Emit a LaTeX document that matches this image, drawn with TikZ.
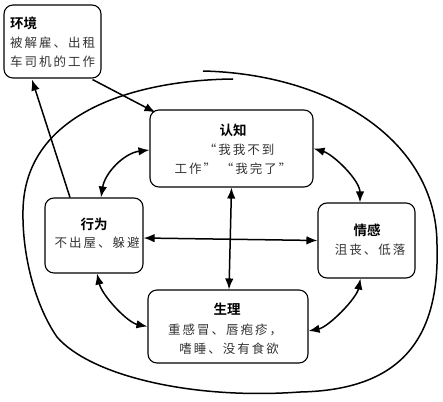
\documentclass[tikz,border=0pt]{standalone}
\usepackage{fontspec}
\usetikzlibrary{arrows.meta,calc}
\newfontfamily\cjk[BoldFont=* Bold]{Noto Sans CJK SC}
\newfontfamily\cjkbody[LetterSpace=16]{Noto Sans CJK SC}
\tikzset{
  box/.style={draw, rounded corners=9pt, line width=1.1pt, inner sep=0pt},
  conn/.style={line width=1.5pt, {Latex[length=11pt,width=8.5pt]}-{Latex[length=11pt,width=8.5pt]}},
  oneway/.style={line width=1.5pt, -{Latex[length=11pt,width=8.5pt]}},
  loopline/.style={line width=1.5pt},
  title/.style={font=\cjk\bfseries\fontsize{13.5}{15}\selectfont, inner sep=0pt},
  body/.style={font=\cjkbody\fontsize{12.5}{14}\selectfont, text=black!80, inner sep=0pt}
}
\begin{document}
\begin{tikzpicture}[x=1pt,y=-1pt]
\useasboundingbox (0,0) rectangle (443,401);
% boxes
\node[box, minimum width=97pt, minimum height=73pt] (env) at (52.5,41.5) {};
\node[box, minimum width=163pt, minimum height=77pt] (cog) at (231.5,148.5) {};
\node[box, minimum width=97pt, minimum height=75pt] (emo) at (366.5,240.5) {};
\node[box, minimum width=98pt, minimum height=75pt] (beh) at (94,235.5) {};
\node[box, minimum width=160pt, minimum height=73pt] (phy) at (228,326.5) {};
% texts
\node[title, anchor=west] (envT) at (10,23) {环境};
\node[body, anchor=west] (envL1) at (10,43) {被解雇、出租};
\node[body, anchor=west] (envL2) at (10,62) {车司机的工作};
\node[title] (cogT) at (233,130) {认知};
\node[body] (cogL1) at (239,150) {“我我不到};
\node[body] (cogL2) at (233,169) {工作”\ “我完了”};
\node[title] (emoT) at (367,230) {情感};
\node[body] (emoL1) at (370,250) {沮丧、低落};
\node[title] (behT) at (94,224) {行为};
\node[body] (behL1) at (97,243) {不出屋、躲避};
\node[title] (phyT) at (227,309) {生理};
\node[body] (phyL1) at (225,330) {重感冒、唇疱疹，};
\node[body] (phyL2) at (229,349) {嗜睡、没有食欲};
% big loop
\draw[loopline] (203,71) .. controls (330,74) and (437,140) .. (437,245)
  .. controls (440,340) and (400,390) .. (300,392)
  .. controls (190,400) and (90,375) .. (57,337)
  .. controls (35,305) and (22,255) .. (23,210)
  .. controls (25,110) and (140,80) .. (233,79);
% connectors
\draw[oneway] ($(env.south)+(40,1)$) -- ($(cog.north west)+(6,3)$);
\draw[oneway] ($(beh.north)+(-24,0)$) -- ($(env.south)+(-20.5,1)$);
\draw[conn] ($(beh.north)+(7,0)$) .. controls +(4,-25) and +(-25,3) .. ($(cog.west)+(0,1.5)$);
\draw[conn] (cog.east) .. controls +(20,6) and +(0,-22) .. ($(emo.north)+(-6.5,0)$);
\draw[conn] (cog.south) -- ($(phy.north)+(1,0)$);
\draw[conn] ($(beh.east)+(0,2.5)$) -- (emo.west);
\draw[conn] ($(beh.south)+(3,0)$) .. controls +(5,22) and +(-20,-4) .. (phy.west);
\draw[conn] ($(emo.south)+(-6,0)$) .. controls +(-4,20) and +(20,-4) .. ($(phy.east)+(0,4.5)$);
\end{tikzpicture}
\end{document}
